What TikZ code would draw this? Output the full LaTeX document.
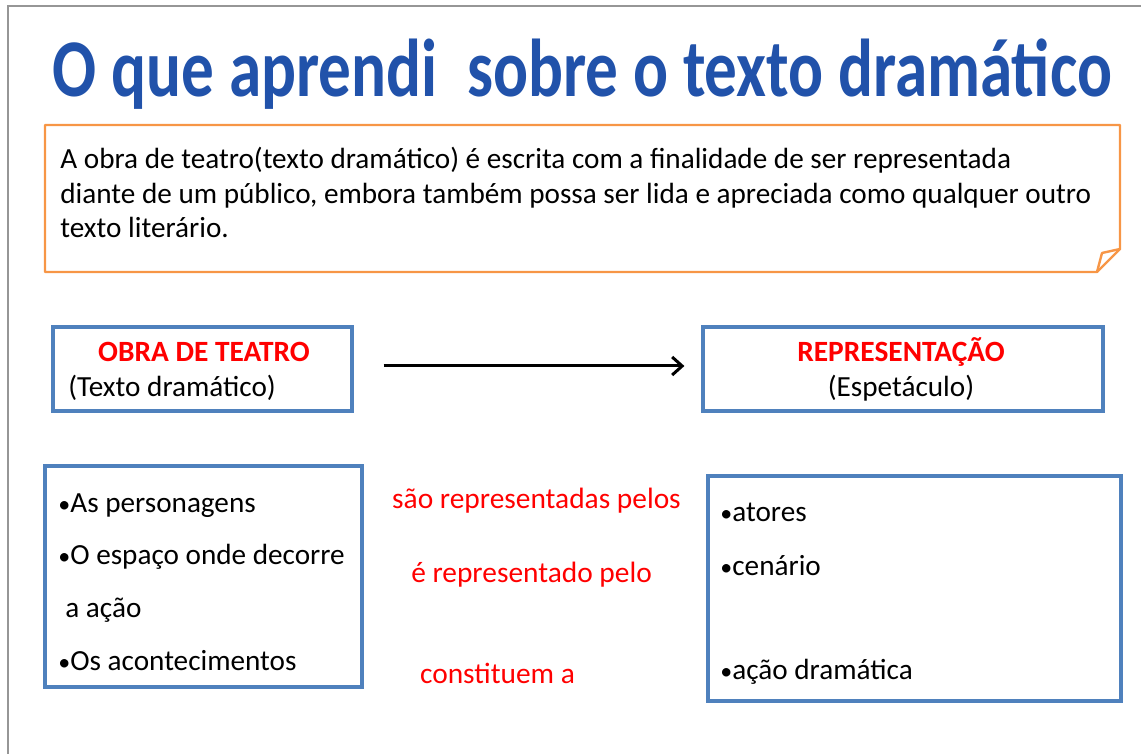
\documentclass[tikz,border=0pt]{standalone}
\usepackage{fontspec}
\setmainfont{Carlito}
\usepackage{tikz}
\usetikzlibrary{arrows.meta, calc}
\definecolor{slB}{RGB}{79,129,189}
\definecolor{slO}{RGB}{247,150,70}
\definecolor{slR}{RGB}{255,0,0}
\definecolor{slT}{RGB}{33,82,170}
\definecolor{slF}{RGB}{150,150,150}
\newcommand{\itm}{{\fontsize{12}{12}\selectfont •}}

\begin{document}
\begin{tikzpicture}[x=0.5pt, y=-0.5pt,
  bluebox/.style={draw=slB, line width=1.6pt, inner sep=0pt},
  redhead/.style={text=slR, font=\fontsize{14.7}{17}\selectfont\bfseries, anchor=base, inner sep=0pt},
  plain/.style={font=\fontsize{14.6}{17}\selectfont, anchor=base west, inner sep=0pt},
  redlink/.style={text=slR, font=\fontsize{14.7}{17}\selectfont, anchor=base, inner sep=0pt}]
\useasboundingbox (0,0) rectangle (1141,754);
% slide frame
\draw[slF, line width=1pt] (8,754) -- (8,6) -- (1141,6);
% title
\node[text=slT, font=\fontsize{41}{48}\selectfont\bfseries, anchor=base, inner sep=0pt] (title) at (582.5,97)
  {\scalebox{0.795}[1]{O que aprendi\ \ sobre o texto dramático}};
% note with folded corner
\coordinate (nNW) at (45,125);
\coordinate (nNE) at (1120,125);
\coordinate (nE) at (1120,249);
\coordinate (nS) at (1097,272);
\coordinate (nSW) at (45,272);
\coordinate (nF) at (1102,253);
\draw[slO, line width=1.2pt, line join=round] (nNW) -- (nNE) -- (nE) -- (nS) -- (nSW) -- cycle;
\draw[slO, line width=1.2pt, line join=round] (nS) -- (nF) -- (nE);
\node[plain, anchor=north west, align=left, font=\fontsize{14.6}{17.25}\selectfont] (intro) at (60,147)
  {A obra de teatro(texto dramático) é escrita com a finalidade de ser representada\\
   diante de um público, embora também possa ser lida e apreciada como qualquer outro\\
   texto literário.};
% top boxes
\node[bluebox, minimum width=149.5pt, minimum height=42pt] (obra) at (202.5,369) {};
\node[redhead] (obraT) at (204,362) {OBRA DE TEATRO};
\node[plain] (obraS) at (68,396) {(Texto dramático)};
\node[bluebox, minimum width=200pt, minimum height=42pt] (repr) at (903,369) {};
\node[redhead] (reprT) at (901,362) {REPRESENTAÇÃO};
\node[plain, anchor=base] (reprS) at (901,396) {(Espetáculo)};
\draw[line width=1.5pt, -{Straight Barb[length=5pt, width=9pt]}]
  ([xshift=15pt, yshift=1.5pt]obra.east) -- ([xshift=-8.5pt, yshift=1.5pt]repr.west);
% lower boxes
\node[bluebox, minimum width=158.5pt, minimum height=110.5pt] (left) at (203.5,576.5) {};
\node[plain] (l1) at (58,512) {\itm As personagens};
\node[plain] (l2) at (58,564) {\itm O espaço onde decorre};
\node[plain] (l3) at (65,617) {a ação};
\node[plain] (l4) at (58,670) {\itm Os acontecimentos};
\node[bluebox, minimum width=206.5pt, minimum height=112.5pt] (right) at (914.5,588.5) {};
\node[plain] (r1) at (720,521) {\itm atores};
\node[plain] (r2) at (720,575) {\itm cenário};
\node[plain] (r3) at (720,679) {\itm ação dramática};
% links between the lists
\node[redlink] (k1) at (536.5,508) {são representadas pelos};
\node[redlink] (k2) at (531.5,582) {é representado pelo};
\node[redlink] (k3) at (497.5,683) {constituem a};
\end{tikzpicture}
\end{document}
